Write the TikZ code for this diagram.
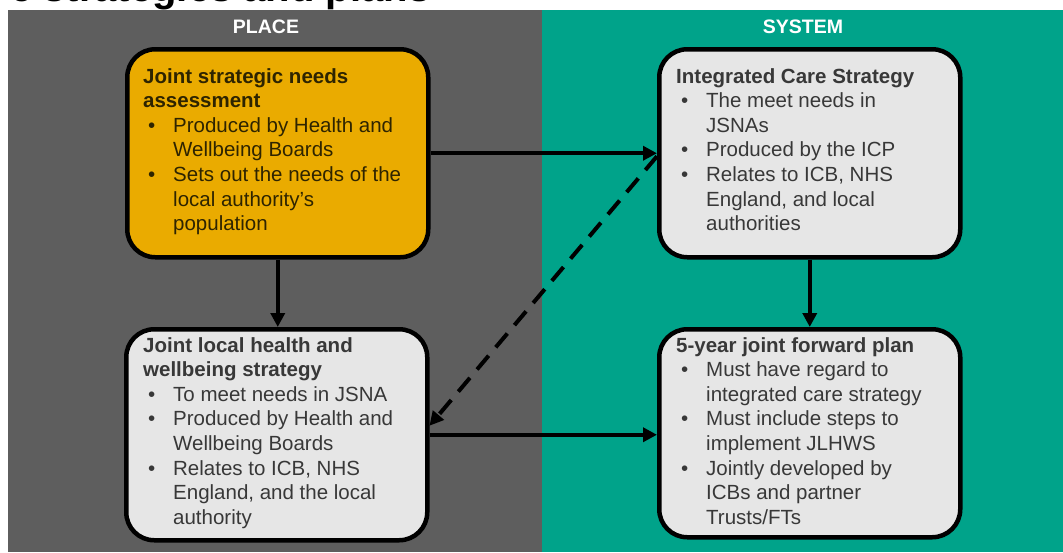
\documentclass[tikz,border=0pt]{standalone}
\usepackage{fontspec}
\setmainfont{Liberation Sans}
\usetikzlibrary{arrows.meta}
\definecolor{panelgray}{HTML}{5E5E5E}
\definecolor{panelteal}{HTML}{00A38A}
\definecolor{boxorange}{HTML}{EAAB00}
\definecolor{boxgray}{HTML}{E6E6E6}
\definecolor{txtgray}{HTML}{383838}
\definecolor{txtdark}{HTML}{2E2400}
\newcommand{\tl}[1]{\par\noindent\textbf{#1}}
\newcommand{\bl}[1]{\par\noindent\makebox[30pt][l]{\hspace{5pt}•}#1}
\newcommand{\cl}[1]{\par\noindent\hspace*{30pt}#1}
\newcommand{\boxtext}[1]{\parbox[t]{280pt}{\fontsize{20.5}{24.6}\selectfont\setlength{\parskip}{0pt}#1}}
\begin{document}
\begin{tikzpicture}[x=1pt,y=-1pt,
  box/.style={draw=black, line width=4.5pt, rounded corners=28pt, minimum width=301pt, minimum height=208pt, anchor=north west, inner sep=0pt},
  btext/.style={anchor=base west, inner sep=0pt, text=txtgray},
  header/.style={text=white, font=\fontsize{19.5}{22}\selectfont\bfseries, inner sep=0pt},
  arr/.style={line width=4pt, -{Triangle[length=14pt,width=14pt]}}
]
\useasboundingbox (0,0) rectangle (1063,552);
\clip (0,0) rectangle (1063,552);
\fill[white] (0,0) rectangle (1063,552);
\node[anchor=base west, inner sep=0pt, font=\fontsize{40}{44}\selectfont\bfseries] (title) at (10,1) {e strategies and plans};
\fill[panelgray] (8,10) rectangle (542,552);
\fill[panelteal] (542,10) rectangle (1063,552);
\node[header] (place) at (266,27) {PLACE};
\node[header] (system) at (803,27) {SYSTEM};

\node[box, fill=boxorange] (jsna) at (125,47) {};
\node[box, fill=boxgray, minimum height=211pt] (jlhws) at (124,327) {};
\node[box, fill=boxgray] (ics) at (657,47) {};
\node[box, fill=boxgray] (jfp) at (657,327) {};

\node[btext, text=txtdark] (jsnatext) at (143,83) {\boxtext{%
\tl{Joint strategic needs}
\tl{assessment}
\bl{Produced by Health and}
\cl{Wellbeing Boards}
\bl{Sets out the needs of the}
\cl{local authority’s}
\cl{population}}};

\node[btext] (icstext) at (676,83) {\boxtext{%
\tl{Integrated Care Strategy}
\bl{The meet needs in}
\cl{JSNAs}
\bl{Produced by the ICP}
\bl{Relates to ICB, NHS}
\cl{England, and local}
\cl{authorities}}};

\node[btext] (jlhwstext) at (143,352) {\boxtext{%
\tl{Joint local health and}
\tl{wellbeing strategy}
\bl{To meet needs in JSNA}
\bl{Produced by Health and}
\cl{Wellbeing Boards}
\bl{Relates to ICB, NHS}
\cl{England, and the local}
\cl{authority}}};

\node[btext] (jfptext) at (676,352) {\boxtext{%
\tl{5-year joint forward plan}
\bl{Must have regard to}
\cl{integrated care strategy}
\bl{Must include steps to}
\cl{implement JLHWS}
\bl{Jointly developed by}
\cl{ICBs and partner}
\cl{Trusts/FTs}}};

\draw[arr] (jsna.east) -- (jsna.east -| ics.west);
\draw[arr] (jlhws.east) -- (jlhws.east -| jfp.west);
\draw[arr] (jsna.south) -- (jsna.south |- jlhws.north);
\draw[arr] (ics.south) -- (ics.south |- jfp.north);
\draw[arr, dash pattern=on 18pt off 11pt] ([yshift=-3pt]ics.west) -- ([yshift=9pt]jlhws.east);
\end{tikzpicture}
\end{document}
